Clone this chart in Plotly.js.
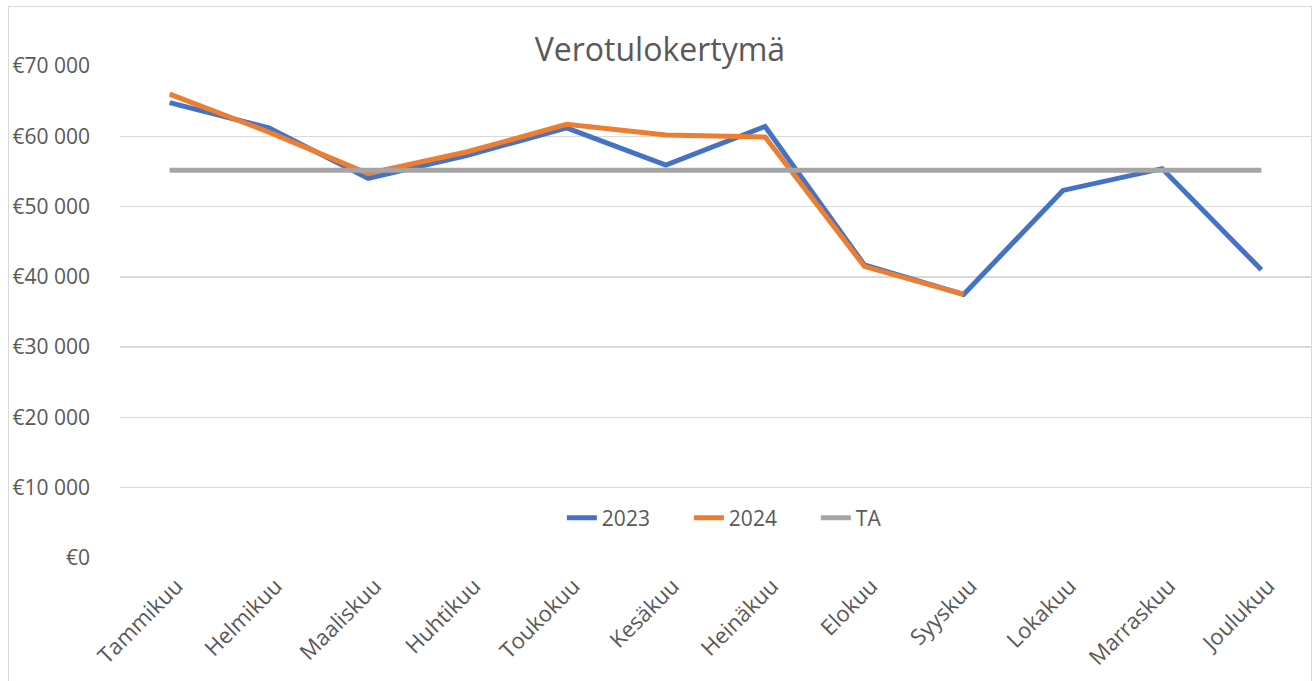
<!DOCTYPE html>
<html>
<head>
<meta charset="utf-8">
<script src="https://cdn.plot.ly/plotly-3.0.1.min.js"></script>
<style>
html,body{margin:0;padding:0;background:#fff;overflow:hidden;}
#chart{width:1312px;height:681px;}
#frame{position:absolute;left:8px;top:6px;width:1302px;height:690px;border:1.5px solid #D9D9D9;pointer-events:none;}
</style>
</head>
<body>
<div id="chart"></div>
<div id="frame"></div>
<script>
const months = ["Tammikuu","Helmikuu","Maaliskuu","Huhtikuu","Toukokuu","Kesäkuu","Heinäkuu","Elokuu","Syyskuu","Lokakuu","Marraskuu","Joulukuu"];
const values2023 = [64800, 61200, 54000, 57300, 61200, 55900, 61400, 41700, 37500, 52300, 55400, 41000];
const values2024 = [66000, 60600, 54700, 57800, 61700, 60200, 59900, 41500, 37500];
const valuesTA = [55150, 55150, 55150, 55150, 55150, 55150, 55150, 55150, 55150, 55150, 55150, 55150];
const yTickVals = [0, 10000, 20000, 30000, 40000, 50000, 60000, 70000];
const yTickText = ["€0", "€10 000", "€20 000", "€30 000", "€40 000", "€50 000", "€60 000", "€70 000"];

const font = "Open Sans, sans-serif";
const traces = [
  {x: months, y: values2023, name: "2023", type: "scatter", mode: "lines", line: {color: "#4472C4", width: 5}},
  {x: months.slice(0, values2024.length), y: values2024, name: "2024", type: "scatter", mode: "lines", line: {color: "#ED7D31", width: 5}},
  {x: months, y: valuesTA, name: "TA", type: "scatter", mode: "lines", line: {color: "#A5A5A5", width: 5}}
];
const layout = {
  width: 1312, height: 681,
  margin: {l: 120, r: 1, t: 66, b: 123},
  paper_bgcolor: "#fff", plot_bgcolor: "#fff",
  font: {family: font, color: "#595959", size: 21},
  title: {text: "Verotulokertymä", font: {family: font, size: 32, color: "#595959"}, x: 0.503, xanchor: "center", y: 0.927, yanchor: "middle"},
  showlegend: true,
  legend: {orientation: "h", x: 0.371, xanchor: "left", y: 0.081, yanchor: "middle", font: {size: 21, color: "#595959"}, bgcolor: "rgba(0,0,0,0)", tracegroupgap: 0, entrywidth: 82, entrywidthmode: "pixels"},
  xaxis: {type: "category", range: [-0.5, 11.5], tickangle: -45, showgrid: false, zeroline: false, showline: false, ticks: "", ticklabelstandoff: 10, ticklabelshift: 7, tickfont: {size: 22, color: "#595959"}, fixedrange: true},
  yaxis: {range: [0, 70000], tickvals: yTickVals, ticktext: yTickText, showgrid: true, gridcolor: "#D9D9D9", gridwidth: 1.5, zeroline: false, showline: false, ticks: "", ticklabelstandoff: 29, tickfont: {size: 21, color: "#595959"}, fixedrange: true}
};
Plotly.newPlot("chart", traces, layout, {displayModeBar: false, staticPlot: true});
</script>
</body>
</html>
